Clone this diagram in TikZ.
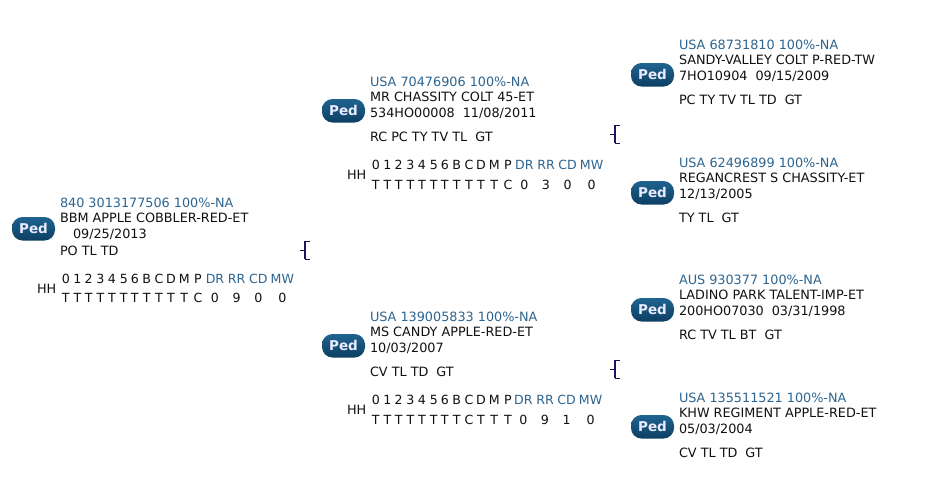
\documentclass[tikz,border=0pt]{standalone}
\usepackage{fontspec}
\setmainfont{DejaVu Sans}
\definecolor{idblue}{HTML}{2E6590}
\definecolor{txt}{HTML}{111111}
\definecolor{brk}{HTML}{1B1464}
\definecolor{pedtop}{HTML}{1F6390}
\definecolor{pedmid}{HTML}{3A8DBB}
\definecolor{pedbot}{HTML}{0C3F62}
\tikzset{
 x=1pt,y=-1pt,
 lbl/.style={anchor=base west,inner sep=0pt,outer sep=0pt,font=\fontsize{12.8}{13}\selectfont,text=txt},
 idl/.style={lbl,text=idblue},
 cell/.style={anchor=base,inner sep=0pt,outer sep=0pt,font=\fontsize{12.6}{13}\selectfont,text=txt},
 cellb/.style={cell,text=idblue},
 pedtext/.style={anchor=base,inner sep=0pt,outer sep=0pt,font=\fontsize{13.5}{14}\selectfont\bfseries,text=white!92!blue},
 pedpill/.style={rounded corners=10.5pt,top color=pedtop,middle color=pedmid,bottom color=pedbot},
}
% \animal{prefix}{x}{y first baseline}{id}{name}{reg/date}{traits}{traits offset}{pill top offset}
\newcommand{\animal}[9]{%
 \node[idl] (#1id) at (#2,#3) {#4};
 \node[lbl] (#1nm) at (#2,#3+15) {#5};
 \node[lbl] (#1dt) at (#2,#3+31) {#6};
 \node[lbl] (#1tr) at (#2,#3+#8) {#7};
 \shade[pedpill] (#2-48,#3+#9) rectangle (#2-5,#3+#9+23.5);
 \node[pedtext] (#1ped) at (#2-26.5,#3+#9+16.5) {Ped};
}
% \geno{prefix}{x}{y digits}{y values}{shift of last columns}{value cells}
\newcommand{\geno}[6]{%
 \node[lbl] (#1hh) at (#2-23,#3+10) {HH};
 \foreach \dx/\t [count=\i] in {5.8/0,17.4/1,28.6/2,40.4/3,52/4,63.8/5,74.8/6,86.6/B,99/C,111/D,124.3/M,138/P}
   \node[cell] (#1d\i) at (#2+\dx,#3) {\t};
 \foreach \dx/\t [count=\i] in {155/DR,176.7/RR,198.3/CD,222.3/MW}
   \node[cellb] (#1e\i) at (#2+\dx+#5,#3) {\t};
 \foreach \dx/\t [count=\i] in {#6}
   \node[cell] (#1t\i) at (#2+\dx,#4) {\t};
}
\newcommand{\brk}[3]{%
 \coordinate (#1a) at (#2,#3);
 \coordinate (#1b) at (#2+5,#3);
 \draw[brk!70!black,line width=1pt] (#1a) -- (#1b);
 \draw[brk,line width=.7pt] (#2+10,#3-9) -- (#2+5,#3-9);
 \draw[brk,line width=.7pt] (#2+10,#3+9) -- (#2+5,#3+9);
 \draw[brk,line width=1.5pt] (#2+5,#3-9.3) -- (#2+5,#3+9.3);
}
\begin{document}
\begin{tikzpicture}
\useasboundingbox (0,0) rectangle (937,482);
\fill[white] (0,0) rectangle (937,482);
\animal{a}{60}{207}{840 3013177506 100\%-NA}{BBM APPLE COBBLER-RED-ET}{\hspace{13pt}09/25/2013}{PO TL TD}{48}{10}
\geno{a}{60}{283}{302}{0}{5.8/T,17.4/T,28.6/T,40.4/T,52/T,63.8/T,74.8/T,86.6/T,99/T,111/T,124.3/T,138/C,155/0,176.7/9,198.3/0,222.3/0}
\brk{a}{300}{250}

\animal{b}{370}{86}{USA 70476906 100\%-NA}{MR CHASSITY COLT 45-ET}{534HO00008\hspace{8pt}11/08/2011}{RC PC TY TV TL\hspace{8pt}GT}{55}{13}
\geno{b}{370}{169}{189}{-.7}{5.8/T,17.4/T,28.6/T,40.4/T,52/T,63.8/T,74.8/T,86.6/T,99/T,111/T,124.3/T,138/C,154.5/0,176/3,197.6/0,221.6/0}
\brk{b}{610}{134}

\animal{c}{370}{321}{USA 139005833 100\%-NA}{MS CANDY APPLE-RED-ET}{10/03/2007}{CV TL TD\hspace{8pt}GT}{55}{13}
\geno{c}{370}{404}{424}{-1.7}{5.8/T,17.4/T,28.6/T,40.4/T,52/T,63.8/T,74.8/T,86.6/T,99/C,111/T,124.3/T,138/T,153.3/0,175/9,196.6/1,220.6/0}
\brk{c}{610}{369}

\animal{d}{679}{49}{USA 68731810 100\%-NA}{SANDY-VALLEY COLT P-RED-TW}{7HO10904\hspace{8pt}09/15/2009}{PC TY TV TL TD\hspace{8pt}GT}{55}{14}
\animal{e}{679}{167}{USA 62496899 100\%-NA}{REGANCREST S CHASSITY-ET}{12/13/2005}{TY TL\hspace{8pt}GT}{55}{14}
\animal{f}{679}{284}{AUS 930377 100\%-NA}{LADINO PARK TALENT-IMP-ET}{200HO07030\hspace{8pt}03/31/1998}{RC TV TL BT\hspace{8pt}GT}{55}{14}
\animal{g}{679}{402}{USA 135511521 100\%-NA}{KHW REGIMENT APPLE-RED-ET}{05/03/2004}{CV TL TD\hspace{8pt}GT}{55}{13}
\end{tikzpicture}
\end{document}
